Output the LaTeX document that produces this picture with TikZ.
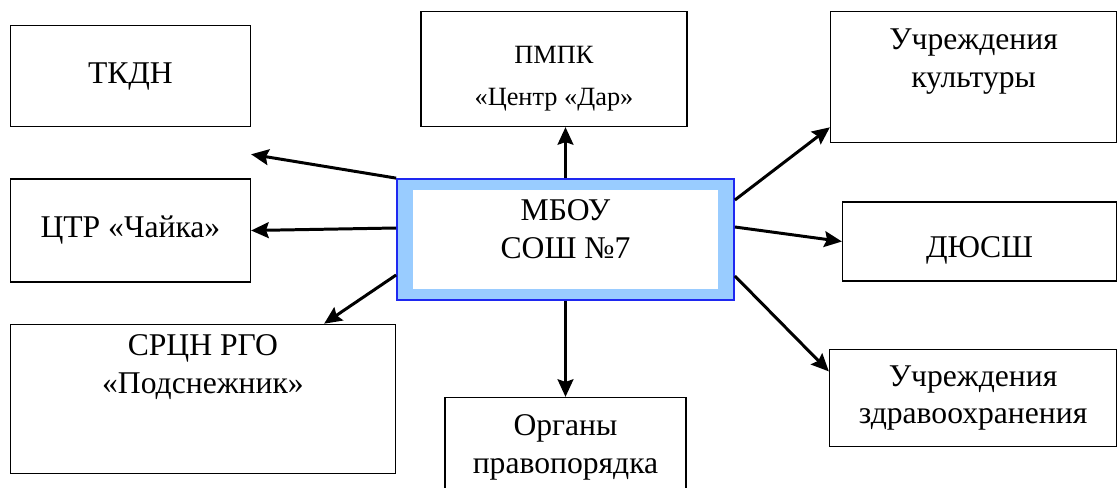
\documentclass[tikz,border=0pt]{standalone}
\usepackage{fontspec}
\setmainfont{Liberation Serif}
\usetikzlibrary{arrows.meta}
\usetikzlibrary{positioning}
\definecolor{schoolblue}{RGB}{30,40,240}
\definecolor{schoolband}{RGB}{153,204,255}
\tikzset{
  > = {Stealth[length = 10pt, width = 9pt, inset = 1.5pt]},
  org/.style = {rectangle,
                draw,
                line width = 0.8pt,
                align = center,
                font = \fontsize{18}{21.5}\selectfont,
                inner sep = 0pt},
  school/.style = {rectangle,
                   draw = schoolblue,
                   line width = 1pt,
                   fill = schoolband,
                   align = center,
                   font = \fontsize{18}{21.5}\selectfont,
                   inner sep = 0pt,
                   minimum width = 6.74cm,
                   minimum height = 2.42cm,
                   path picture = {\fill[white]
                     ([xshift = 0.32cm, yshift = 0.22cm]path picture bounding box.south west)
                     rectangle
                     ([xshift = -0.32cm, yshift = -0.22cm]path picture bounding box.north east);}},
  link/.style = {->, line width = 1.7pt}
}

\begin{document}
\begin{tikzpicture}
\useasboundingbox (0,0) rectangle (22.34,-9.76);

\node[school](mbou) at (11.31,-4.79){МБОУ\\ СОШ №7\\[-10pt]\mbox{}};

\node[org, minimum width = 5.32cm, minimum height = 2.3cm,
      font = \fontsize{15}{24}\selectfont](pmpk)[above = 1.02cm of mbou, xshift = -0.23cm]{\mbox{}\\[-3pt]ПМПК\\«Центр «Дар»};

\node[org, minimum width = 4.82cm, minimum height = 2cm](organy)[below = 1.92cm of mbou]{Органы\\правопорядка};

% left column
\node[org, minimum width = 4.8cm, minimum height = 2.06cm](ctr)[left = 2.9cm of mbou, yshift = 0.18cm]{ЦТР «Чайка»};

\node[org, minimum width = 4.8cm, minimum height = 2.02cm](tkdn)[above = 1.02cm of ctr]{ТКДН};

\node[org, minimum width = 7.7cm, minimum height = 2.98cm](srcn)[below = 0.82cm of ctr.south west, anchor = north west]{СРЦН РГО\\«Подснежник»\\[18pt]\mbox{}};

% right column
\node[org, minimum width = 5.48cm, minimum height = 1.58cm,
      text height = 18.7pt, text depth = 0pt](dyussh)[right = 2.14cm of mbou, yshift = -0.04cm]{ДЮСШ};

\node[org, minimum width = 5.72cm, minimum height = 2.62cm](kult)[above = 1.16cm of dyussh.north east, anchor = south east]{Учреждения\\культуры\\\mbox{}};

\node[org, minimum width = 5.74cm, minimum height = 1.94cm](zdrav)[below = 1.34cm of dyussh.south east, anchor = north east]{Учреждения\\здравоохранения};

% links
\coordinate (tkdn-tip) at ([yshift = -0.54cm]tkdn.south east);
\draw[link] (mbou.north west) -- (tkdn-tip);
\draw[link] ([yshift = 0.23cm]mbou.west) -- (ctr.east);
\draw[link] ([yshift = -0.71cm]mbou.west) -- ([xshift = -1.44cm]srcn.north east);
\draw[link] (mbou.north) -- (mbou.north |- pmpk.south);
\draw[link] (mbou.south) -- (organy.north);
\draw[link] ([yshift = 0.79cm]mbou.east) -- ([yshift = 0.32cm]kult.south west);
\draw[link] ([yshift = 0.25cm]mbou.east) -- (dyussh.west);
\draw[link] ([yshift = -0.73cm]mbou.east) -- ([yshift = 0.53cm]zdrav.west);

\end{tikzpicture}
\end{document}
